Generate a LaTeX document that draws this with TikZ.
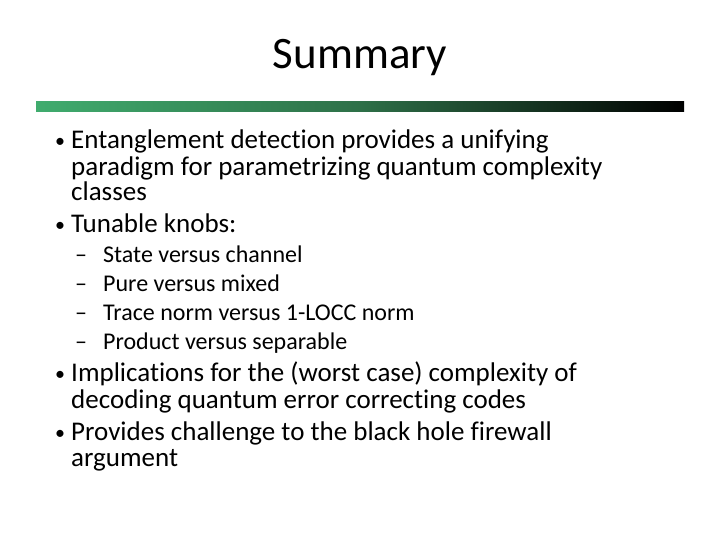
\documentclass[tikz,border=0pt]{standalone}
\usepackage{fontspec}
\setmainfont[Ligatures=NoCommon,Contextuals=NoAlternate]{Carlito}
\definecolor{gA}{RGB}{64,172,110}
\definecolor{gB}{RGB}{46,112,72}
\begin{document}
\begin{tikzpicture}[x=1pt,y=-1pt,
 t/.style={anchor=base west,inner sep=0pt,font=\fontsize{27}{30}\selectfont},
 bu/.style={anchor=base west,inner sep=0pt,font=\fontsize{20}{24}\selectfont},
 s/.style={anchor=base west,inner sep=0pt,font=\fontsize{24}{28}\selectfont}]
\useasboundingbox (0,0) rectangle (720,540);
\node[font=\fontsize{45}{52}\selectfont,inner sep=0pt] (title) at (360,58) {Summary};
\shade[left color=gA, right color=black, middle color=gB] (36,102) rectangle (684,112);
\node[bu] (b1) at (55,148) {•};
\node[t] (l1) at (71,149) {Entanglement detection provides a unifying};
\node[t] (l2) at (71,176) {paradigm for parametrizing quantum complexity};
\node[t] (l3) at (71,201) {classes};
\node[bu] (b2) at (55,232) {•};
\node[t] (l4) at (71,233) {Tunable knobs:};
\node[s] (d1) at (75,262) {–};
\node[s] (s1) at (103,262) {State versus channel};
\node[s] (d2) at (75,291) {–};
\node[s] (s2) at (103,291) {Pure versus mixed};
\node[s] (d3) at (75,320) {–};
\node[s] (s3) at (103,320) {Trace norm versus 1-LOCC norm};
\node[s] (d4) at (75,349) {–};
\node[s] (s4) at (103,349) {Product versus separable};
\node[bu] (b3) at (55,380) {•};
\node[t] (l5) at (71,381) {Implications for the (worst case) complexity of};
\node[t] (l6) at (71,408) {decoding quantum error correcting codes};
\node[bu] (b4) at (55,439) {•};
\node[t] (l7) at (71,440) {Provides challenge to the black hole firewall};
\node[t] (l8) at (71,466) {argument};
\end{tikzpicture}
\end{document}
